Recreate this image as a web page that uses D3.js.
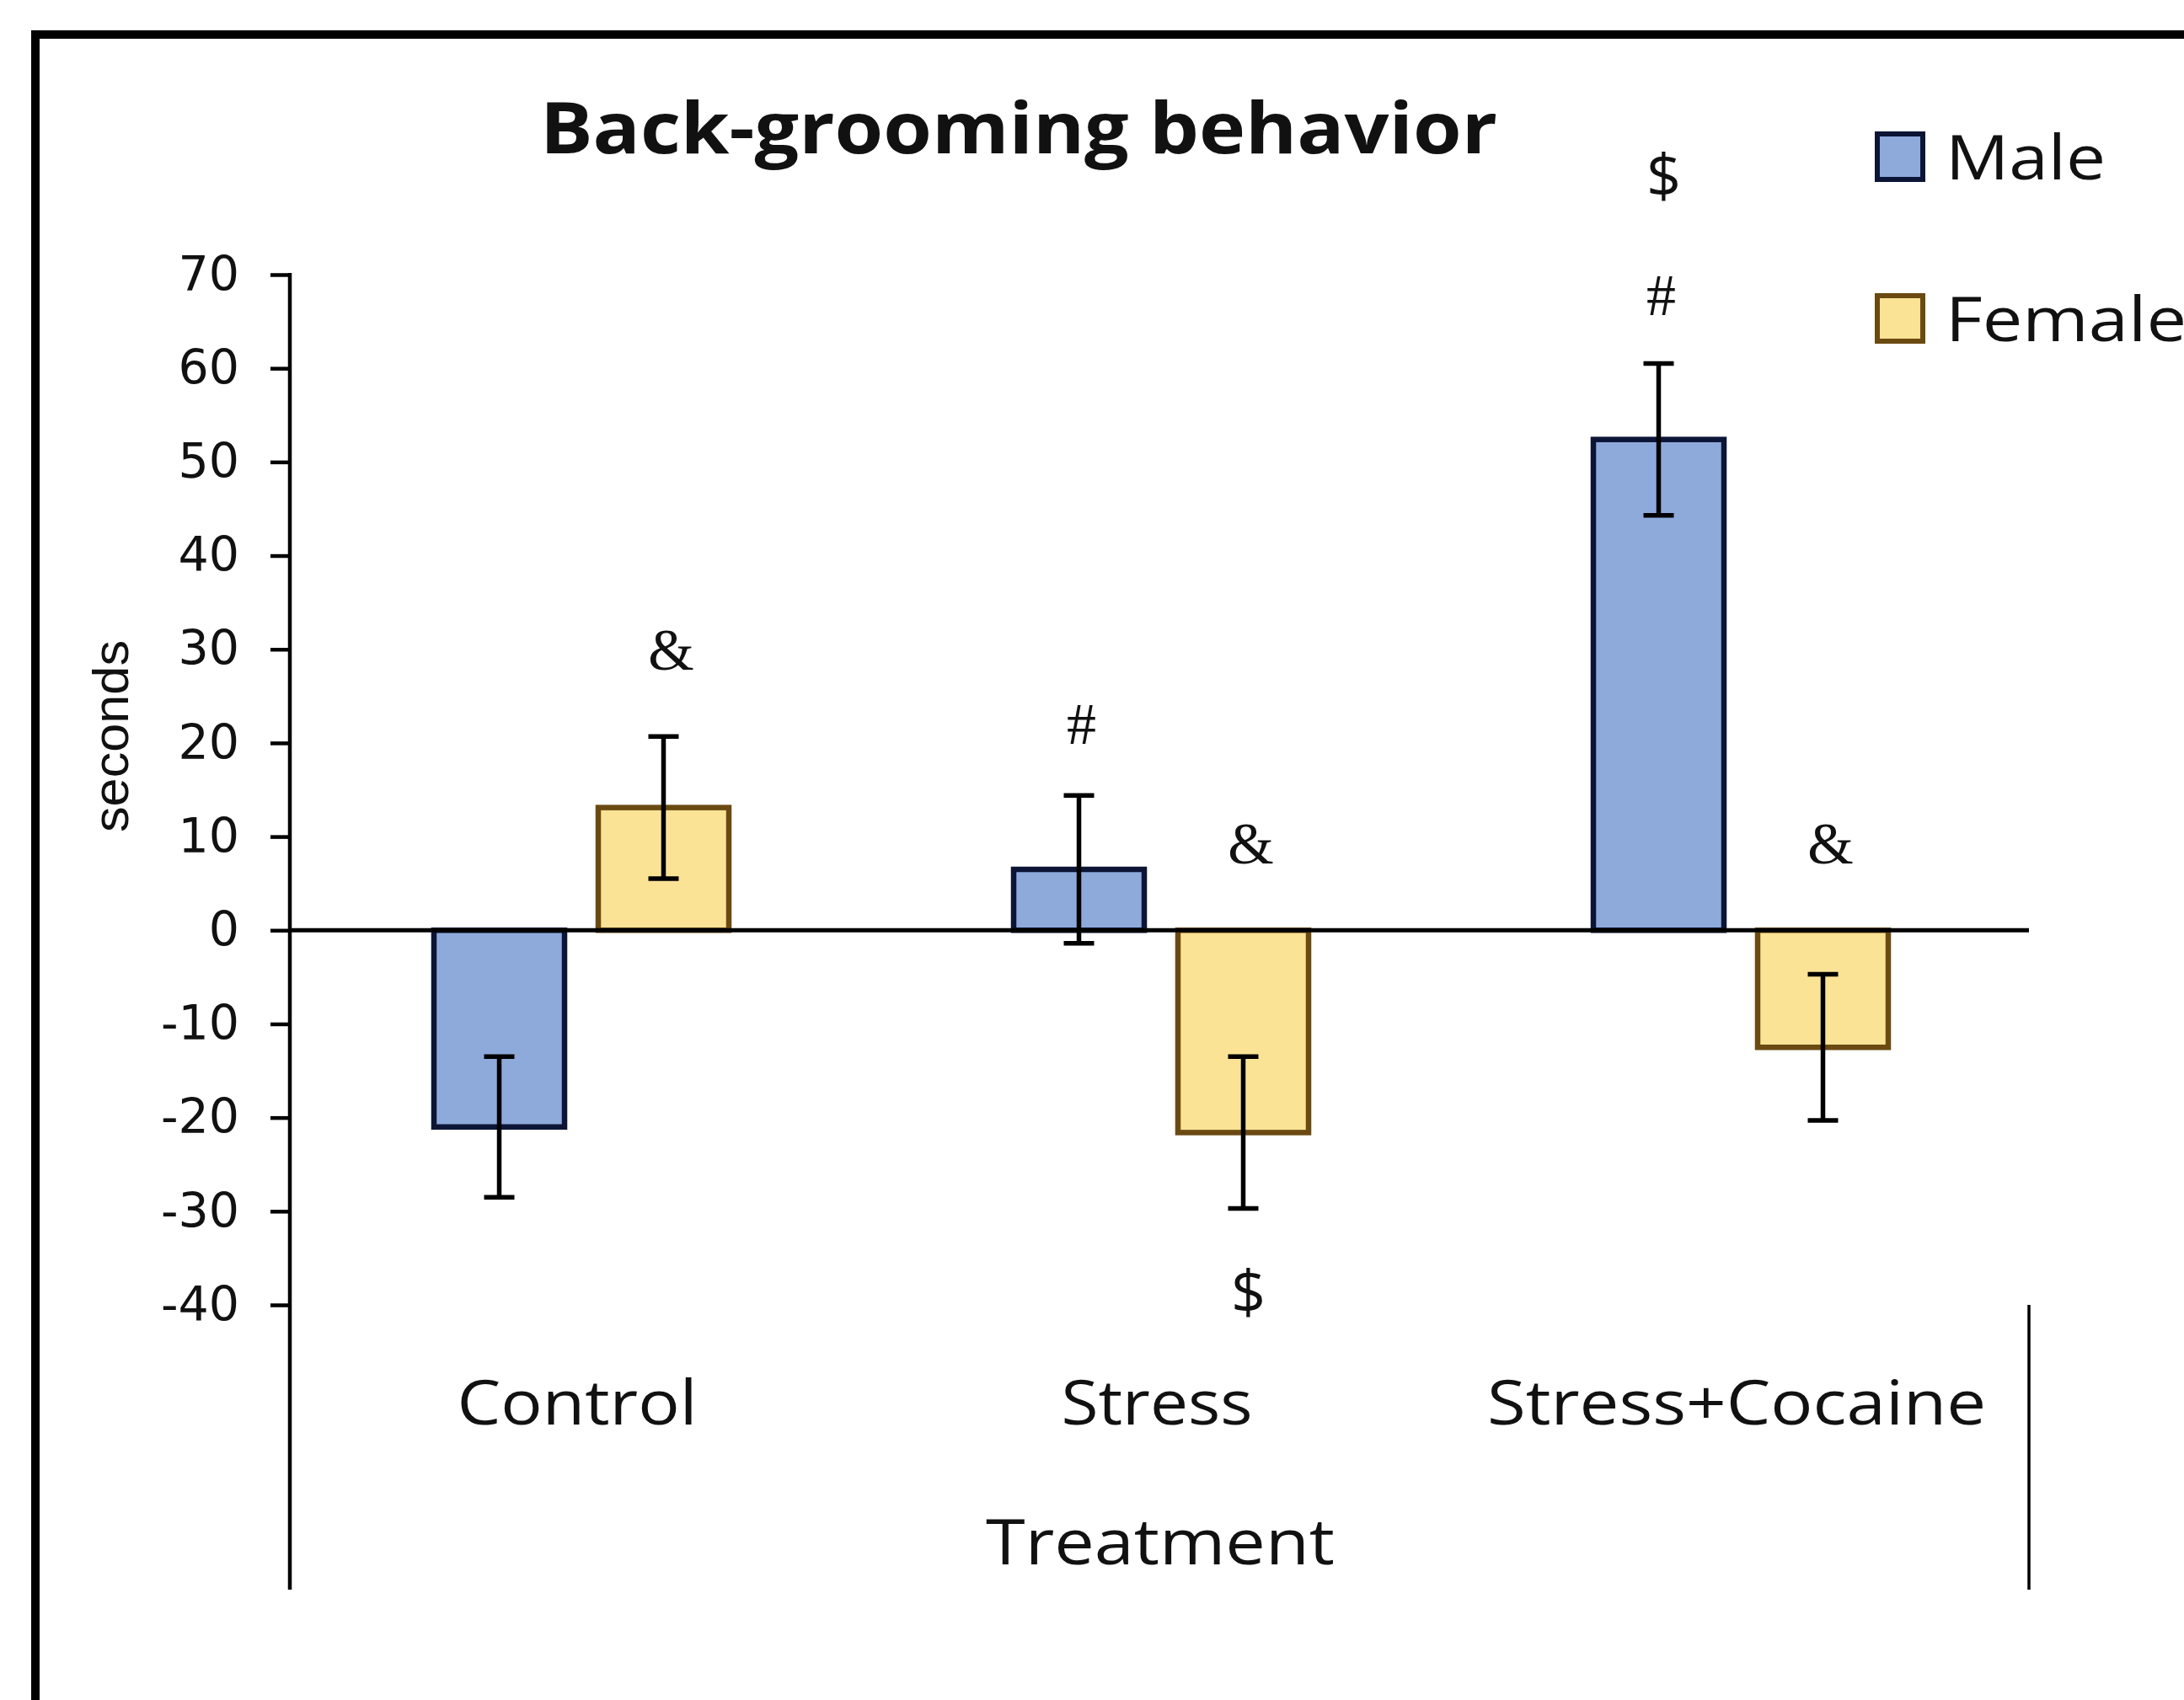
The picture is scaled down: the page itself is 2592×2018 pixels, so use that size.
<!DOCTYPE html>
<html>
<head>
<meta charset="utf-8">
<script src="https://cdn.jsdelivr.net/npm/d3@7"></script>
<style>
  html, body { margin: 0; padding: 0; background: #ffffff; }
  svg { display: block; }
</style>
</head>
<body>
<svg id="chart" width="2592" height="2018"></svg>
<script>
// ---- data ----
const categories = ["Control", "Stress", "Stress+Cocaine"];
const seriesNames = ["Male", "Female"];
const maleValues = [-21.0, 6.5, 52.4];
const femaleValues = [13.1, -21.6, -12.5];
const maleErrors = [7.5, 7.9, 8.1];
const femaleErrors = [7.6, 8.1, 7.8];
const yTickValues = [70, 60, 50, 40, 30, 20, 10, 0, -10, -20, -30, -40];
const annotationCategories = ["Control", "Stress", "Stress", "Stress", "Stress+Cocaine", "Stress+Cocaine", "Stress+Cocaine"];
const annotationSeries = ["Female", "Male", "Female", "Female", "Male", "Male", "Female"];
const annotationSymbols = ["&", "#", "&", "$", "#", "$", "&"];
const annotationLevels = [30, 22, 9.3, -38.8, 67.8, 80.4, 9.3];
const titleText = "Back-grooming behavior";
const yAxisTitle = "seconds";
const xAxisTitle = "Treatment";

// ---- layout ----
const W = 2592, H = 2018;
const plotLeft = 344, plotRight = 2408;
const plotTop = 326, plotBottom = 1549;
const catLineBottom = 1887;
const colors = {
  Male: { fill: "#8eaadb", stroke: "#0c1536" },
  Female: { fill: "#fbe396", stroke: "#6b4a12" }
};
const symbolShift = { "&": 9, "#": 3, "$": 6 };

const svg = d3.select("#chart");
svg.append("rect").attr("width", W).attr("height", H).attr("fill", "#ffffff");

// outer frame (cut by page edges)
svg.append("path")
  .attr("d", `M42,${H + 10} V41 H${W + 10}`)
  .attr("fill", "none").attr("stroke", "#000").attr("stroke-width", 10);

const x0 = d3.scaleBand().domain(categories).range([plotLeft, plotRight]).padding(0);
const groupWidth = 350;
const x1 = d3.scaleBand().domain(seriesNames).range([0, groupWidth]).paddingInner(0.205).paddingOuter(0);
const groupOffset = (x0.bandwidth() - groupWidth) / 2 + 2;
const y = d3.scaleLinear().domain([-40, 70]).range([plotBottom, plotTop]);

const rows = [];
categories.forEach((c, i) => {
  rows.push({ cat: c, s: "Male", v: maleValues[i], e: maleErrors[i] });
  rows.push({ cat: c, s: "Female", v: femaleValues[i], e: femaleErrors[i] });
});
const barX = d => x0(d.cat) + groupOffset + x1(d.s);

// y axis
const yAxis = d3.axisLeft(y).tickValues(yTickValues).tickSize(23).tickPadding(37)
  .tickFormat(d => String(d));
const gy = svg.append("g").attr("transform", `translate(${plotLeft},0)`).call(yAxis);
gy.select(".domain").remove();
gy.selectAll(".tick line").attr("stroke", "#000").attr("stroke-width", 4.5);
gy.selectAll(".tick text")
  .attr("font-family", "'DejaVu Sans', Verdana, sans-serif")
  .attr("font-size", 57).attr("fill", "#111");
// y axis line extends down to category dividers
svg.append("line")
  .attr("x1", plotLeft).attr("x2", plotLeft)
  .attr("y1", y(70) - 2).attr("y2", catLineBottom)
  .attr("stroke", "#000").attr("stroke-width", 4.5);
// right category divider
svg.append("line")
  .attr("x1", plotRight).attr("x2", plotRight)
  .attr("y1", plotBottom).attr("y2", catLineBottom)
  .attr("stroke", "#000").attr("stroke-width", 3.5);

// bars
svg.append("g").selectAll("rect").data(rows).join("rect")
  .attr("x", d => barX(d))
  .attr("y", d => y(Math.max(0, d.v)))
  .attr("width", x1.bandwidth())
  .attr("height", d => Math.abs(y(d.v) - y(0)))
  .attr("fill", d => colors[d.s].fill)
  .attr("stroke", d => colors[d.s].stroke)
  .attr("stroke-width", 6.5);

// zero line
svg.append("line")
  .attr("x1", plotLeft).attr("x2", plotRight)
  .attr("y1", y(0)).attr("y2", y(0))
  .attr("stroke", "#000").attr("stroke-width", 5);

// error bars
const capHalf = 18;
const eg = svg.append("g").attr("stroke", "#000").attr("stroke-width", 5.5);
rows.forEach(d => {
  const cx = barX(d) + x1.bandwidth() / 2;
  eg.append("line").attr("x1", cx).attr("x2", cx).attr("y1", y(d.v + d.e)).attr("y2", y(d.v - d.e));
  eg.append("line").attr("x1", cx - capHalf).attr("x2", cx + capHalf).attr("y1", y(d.v + d.e)).attr("y2", y(d.v + d.e));
  eg.append("line").attr("x1", cx - capHalf).attr("x2", cx + capHalf).attr("y1", y(d.v - d.e)).attr("y2", y(d.v - d.e));
});

// annotations
annotationSymbols.forEach((sym, i) => {
  const cx = x0(annotationCategories[i]) + groupOffset + x1(annotationSeries[i]) + x1.bandwidth() / 2 + symbolShift[sym];
  const isDollar = sym === "$";
  svg.append("text")
    .attr("x", cx).attr("y", y(annotationLevels[i]))
    .attr("dy", isDollar ? "0.33em" : "0.34em")
    .attr("text-anchor", "middle")
    .attr("font-family", isDollar ? "'Open Sans', sans-serif" : "'Liberation Serif', 'Times New Roman', serif")
    .attr("font-size", isDollar ? 72 : 70)
    .attr("fill", "#111")
    .text(sym);
});

// category labels
const catLengths = [285, 227, 592];
categories.forEach((c, i) => {
  svg.append("text")
    .attr("x", x0(c) + x0.bandwidth() / 2 - 3).attr("y", 1691)
    .attr("text-anchor", "middle")
    .attr("font-family", "'Open Sans', sans-serif").attr("font-size", 73)
    .attr("textLength", catLengths[i]).attr("lengthAdjust", "spacingAndGlyphs")
    .attr("fill", "#111").text(c);
});

// x axis title
svg.append("text")
  .attr("x", (plotLeft + plotRight) / 2 + 1).attr("y", 1857)
  .attr("text-anchor", "middle")
  .attr("font-family", "'Open Sans', sans-serif").attr("font-size", 75)
  .attr("textLength", 414).attr("lengthAdjust", "spacingAndGlyphs")
  .attr("fill", "#111").text(xAxisTitle);

// y axis title
svg.append("text")
  .attr("transform", `translate(152,874) rotate(-90)`)
  .attr("text-anchor", "middle")
  .attr("font-family", "'Liberation Sans', Arial, sans-serif").attr("font-size", 60)
  .attr("textLength", 228).attr("lengthAdjust", "spacingAndGlyphs")
  .attr("fill", "#111").text(yAxisTitle);

// title
svg.append("text")
  .attr("x", 1209).attr("y", 182)
  .attr("text-anchor", "middle")
  .attr("font-family", "'Open Sans', sans-serif").attr("font-weight", "bold").attr("font-size", 84)
  .attr("textLength", 1136).attr("lengthAdjust", "spacingAndGlyphs")
  .attr("fill", "#111").text(titleText);

// legend
const legendY = [159, 351];
const legendLengths = [190, 286];
seriesNames.forEach((s, i) => {
  svg.append("rect")
    .attr("x", 2228).attr("y", legendY[i]).attr("width", 54).attr("height", 54)
    .attr("fill", colors[s].fill).attr("stroke", colors[s].stroke).attr("stroke-width", 6);
  svg.append("text")
    .attr("x", 2309).attr("y", legendY[i] + 54)
    .attr("font-family", "'Open Sans', sans-serif").attr("font-size", 73)
    .attr("textLength", legendLengths[i]).attr("lengthAdjust", "spacingAndGlyphs")
    .attr("fill", "#111").text(s);
});
</script>
</body>
</html>
